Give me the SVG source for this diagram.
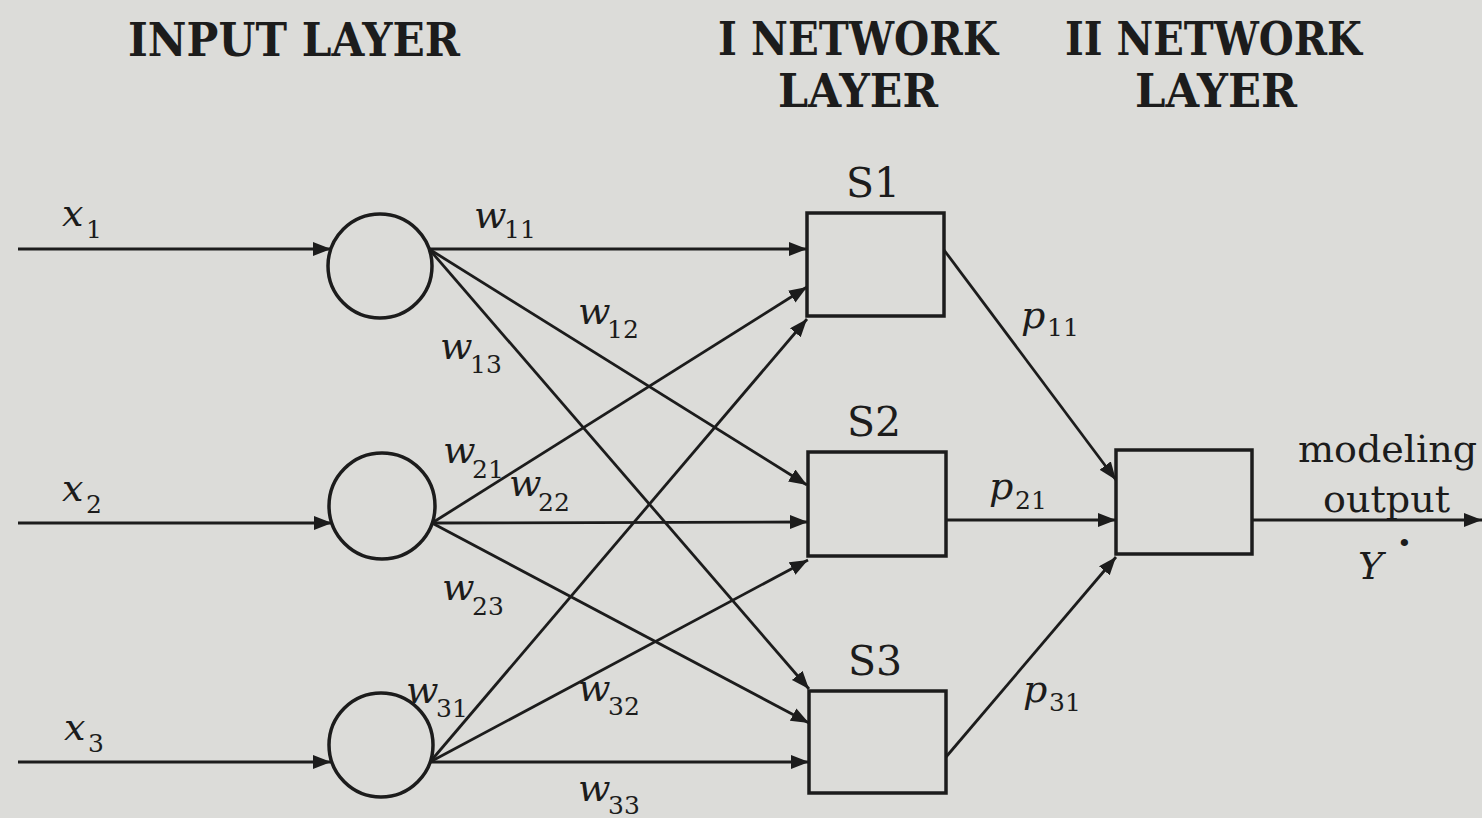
<svg xmlns="http://www.w3.org/2000/svg" width="1482" height="818" viewBox="0 0 1482 818">
<defs>
<marker id="ah" markerUnits="userSpaceOnUse" markerWidth="20" markerHeight="16" refX="18" refY="7" orient="auto">
<path d="M0,0 L18,7 L0,14 z" fill="#1c1c1c"/>
</marker>
<style>
.bg{fill:#dcdcd9}
.node{fill:none;stroke:#1c1c1c;stroke-width:3.5}
.edge{stroke:#1c1c1c;stroke-width:2.8;fill:none;marker-end:url(#ah)}
.head{font-family:"DejaVu Serif","Liberation Serif",serif;font-weight:bold;font-size:46px;fill:#1c1c1c}
.sname{font-family:"DejaVu Serif","Liberation Serif",serif;font-size:41px;fill:#1c1c1c}
.lbl{font-family:"DejaVu Serif","Liberation Serif",serif;font-style:italic;font-size:38px;fill:#1c1c1c}
.sub{font-family:"DejaVu Serif","Liberation Serif",serif;font-style:normal;font-size:25px}
.txt{font-family:"DejaVu Serif","Liberation Serif",serif;font-size:38px;fill:#1c1c1c}
</style>
</defs>
<rect class="bg" x="0" y="0" width="1482" height="818"/>

<g id="headings">
<text class="head" x="128" y="56" textLength="332" lengthAdjust="spacingAndGlyphs">INPUT LAYER</text>
<text class="head" x="718" y="55" textLength="280" lengthAdjust="spacingAndGlyphs">I NETWORK</text>
<text class="head" x="778" y="107" textLength="160" lengthAdjust="spacingAndGlyphs">LAYER</text>
<text class="head" x="1065" y="55" textLength="297" lengthAdjust="spacingAndGlyphs">II NETWORK</text>
<text class="head" x="1135" y="107" textLength="162" lengthAdjust="spacingAndGlyphs">LAYER</text>
</g>

<g id="input1"><circle class="node" cx="380" cy="266" r="52"/></g>
<g id="input2"><circle class="node" cx="382" cy="506" r="53"/></g>
<g id="input3"><circle class="node" cx="381" cy="745" r="52"/></g>

<g id="S1"><rect class="node" x="807" y="213" width="137" height="103"/><text class="sname" x="846" y="197">S1</text></g>
<g id="S2"><rect class="node" x="808" y="452" width="138" height="104"/><text class="sname" x="847" y="436">S2</text></g>
<g id="S3"><rect class="node" x="809" y="691" width="137" height="102"/><text class="sname" x="848" y="675">S3</text></g>
<g id="output"><rect class="node" x="1116" y="450" width="136" height="104"/></g>

<g id="connectors">
<line class="edge" x1="18" y1="249" x2="331" y2="249"/>
<line class="edge" x1="18" y1="523" x2="332" y2="523"/>
<line class="edge" x1="18" y1="762" x2="331" y2="762"/>
<line class="edge" x1="429" y1="249" x2="807" y2="249"/>
<line class="edge" x1="429" y1="249" x2="807" y2="485"/>
<line class="edge" x1="429" y1="249" x2="809" y2="689"/>
<line class="edge" x1="432" y1="523" x2="807" y2="287"/>
<line class="edge" x1="432" y1="523" x2="808" y2="522"/>
<line class="edge" x1="432" y1="523" x2="809" y2="723"/>
<line class="edge" x1="430" y1="762" x2="807" y2="319"/>
<line class="edge" x1="430" y1="762" x2="808" y2="560"/>
<line class="edge" x1="430" y1="762" x2="809" y2="762"/>
<line class="edge" x1="944" y1="250" x2="1116" y2="480"/>
<line class="edge" x1="946" y1="520" x2="1116" y2="520"/>
<line class="edge" x1="946" y1="757" x2="1116" y2="557"/>
<line class="edge" x1="1252" y1="520" x2="1482" y2="520"/>
</g>

<g id="labels">
<text class="lbl" x="62" y="226">x<tspan class="sub" x="86" y="238">1</tspan></text>
<text class="lbl" x="62" y="501">x<tspan class="sub" x="86" y="513">2</tspan></text>
<text class="lbl" x="64" y="740">x<tspan class="sub" x="88" y="752">3</tspan></text>
<text class="lbl" x="474" y="228">w<tspan class="sub" x="504" y="238">11</tspan></text>
<text class="lbl" x="578" y="324">w<tspan class="sub" x="607" y="338">12</tspan></text>
<text class="lbl" x="440" y="359">w<tspan class="sub" x="470" y="373">13</tspan></text>
<text class="lbl" x="443" y="463">w<tspan class="sub" x="472" y="478">21</tspan></text>
<text class="lbl" x="509" y="496">w<tspan class="sub" x="538" y="511">22</tspan></text>
<text class="lbl" x="442" y="600">w<tspan class="sub" x="472" y="615">23</tspan></text>
<text class="lbl" x="406" y="703">w<tspan class="sub" x="436" y="717">31</tspan></text>
<text class="lbl" x="578" y="701">w<tspan class="sub" x="608" y="715">32</tspan></text>
<text class="lbl" x="578" y="801">w<tspan class="sub" x="608" y="814">33</tspan></text>
<text class="lbl" x="1021" y="328">p<tspan class="sub" x="1047" y="336">11</tspan></text>
<text class="lbl" x="989" y="499">p<tspan class="sub" x="1015" y="509">21</tspan></text>
<text class="lbl" x="1023" y="702">p<tspan class="sub" x="1049" y="711">31</tspan></text>
<text class="txt" x="1298" y="462" textLength="179" lengthAdjust="spacingAndGlyphs">modeling</text>
<text class="txt" x="1323" y="512" textLength="127" lengthAdjust="spacingAndGlyphs">output</text>
<text class="lbl" x="1358" y="579">Y<tspan class="sub" x="1397" y="552" font-size="16">•</tspan></text>
</g>
</svg>
